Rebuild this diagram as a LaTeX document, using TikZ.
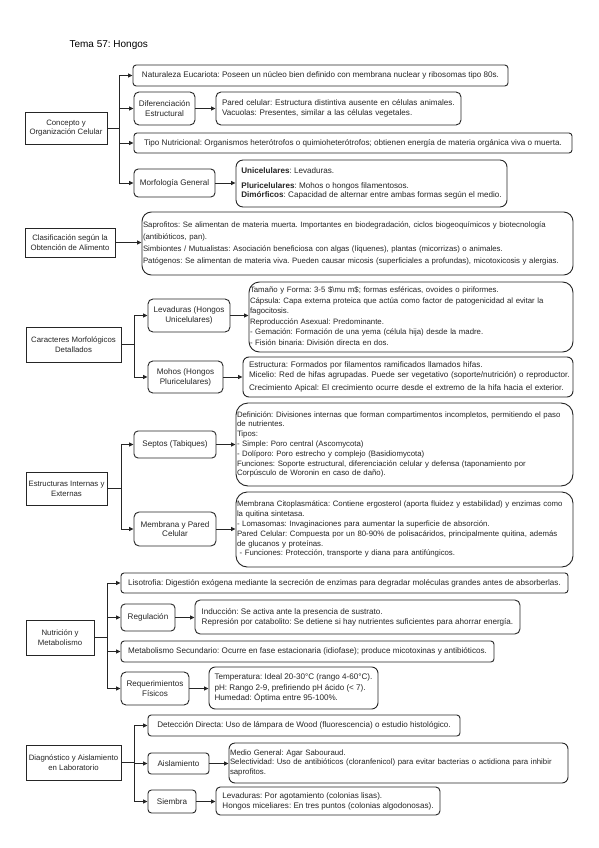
\documentclass[tikz,border=0pt]{standalone}
\usepackage{fontspec}
\setmainfont{Liberation Sans}
\usetikzlibrary{arrows.meta}
\frenchspacing
\newcommand\tb[1]{\begin{tabular}{@{}l@{}}#1\end{tabular}}
\newcommand\mybox[7]{%
  \pgfmathsetmacro\bw{#4-#2}%
  \pgfmathsetmacro\bh{#5-#3}%
  \pgfmathsetmacro\tw{\bw-2}%
  \pgfmathsetmacro\twp{\bw-12}%
  \pgfmathsetmacro\cx{(#2+#4)/2}%
  \pgfmathsetmacro\cy{(#3+#5)/2}%
  \pgfmathsetmacro\rr{min(0.15*min(\bw,\bh),12)}%
  \node[rounded corners=\rr pt, #6, minimum width=\bw pt, minimum height=\bh pt] (#1) at (\cx,\cy) {#7};%
}
\begin{document}
\begin{tikzpicture}[x=1pt,y=-1pt,
  every node/.style={font=\fontsize{8.1}{9.8}\selectfont\frenchspacing, text=black!85},
  smallf/.style={font=\fontsize{7.8}{9.8}\selectfont\frenchspacing},
  bx/.style={draw=black!85, line width=0.9pt, fill=white, inner sep=2pt},
  root/.style={bx, smallf, sharp corners, align=center, inner xsep=0.5pt},
  lab/.style={bx, align=center, inner xsep=1pt},
  cen/.style={bx, align=left},
  flush/.style={bx, smallf, text width=\tw pt, inner xsep=1pt, align=left},
  flushp/.style={bx, text width=\twp pt, inner xsep=6pt, align=left},
  ln/.style={draw=black!85, line width=0.9pt},
  arr/.style={ln, -{Triangle[length=4.5pt,width=4pt]}},
]
\fill[white] (0,0) rectangle (599,848);
\useasboundingbox (0,0) rectangle (599,848);

\node[anchor=west, font=\fontsize{10}{12}\selectfont, text=black] (title) at (66,45) {Tema 57: Hongos};

% ---------- Group 1
\mybox{c1}{25}{112}{107}{144}{root}{Concepto y\\Organización Celular}
\mybox{n1}{133}{65}{508}{86}{cen}{Naturaleza Eucariota: Poseen un núcleo bien definido con membrana nuclear y ribosomas tipo 80s.}
\mybox{n2}{134}{92}{195}{125}{lab}{Diferenciación\\Estructural}
\mybox{n2b}{216}{92}{461}{125}{flushp}{\tb{Pared celular: Estructura distintiva ausente en células animales.\\Vacuolas: Presentes, similar a las células vegetales.}}
\mybox{n3}{134}{133}{572}{153}{cen}{Tipo Nutricional: Organismos heterótrofos o quimioheterótrofos; obtienen energía de materia orgánica viva o muerta.}
\mybox{n4}{134}{169}{215}{197}{lab}{Morfología General}
\mybox{n4b}{236}{160}{507}{207}{cen}{\textbf{Unicelulares}: Levaduras.\\[5pt]\textbf{Pluricelulares}: Mohos o hongos filamentosos.\\\textbf{Dimórficos}: Capacidad de alternar entre ambas formas según el medio.}
\coordinate (t1) at (119,0);
\draw[ln] (c1.east) -- (c1.east -| t1);
\foreach \n in {n1,n2,n3,n4} \draw[arr] (c1.east -| t1) |- (\n.west);
\draw[arr] (n2.east) -- (n2.east -| n2b.west);
\draw[arr] (n4.east) -- (n4.east -| n4b.west);

% ---------- Group 2
\mybox{c2}{25}{228}{115}{257}{root}{Clasificación según la\\Obtención de Alimento}
\mybox{s1}{142}{212}{573}{275}{flush}{\tb{Saprofitos: Se alimentan de materia muerta. Importantes en biodegradación, ciclos biogeoquímicos y biotecnología\\[1.5pt](antibióticos, pan).\\[3pt]Simbiontes / Mutualistas: Asociación beneficiosa con algas (líquenes), plantas (micorrizas) o animales.\\[1.5pt]Patógenos: Se alimentan de materia viva. Pueden causar micosis (superficiales a profundas), micotoxicosis y alergias.}}
\draw[arr] (c2.east) -- (c2.east -| s1.west);

% ---------- Group 3
\mybox{c3}{26}{327}{121}{362}{root}{Caracteres Morfológicos\\Detallados}
\mybox{l1}{148}{299}{230}{332}{lab}{Levaduras (Hongos\\Unicelulares)}
\mybox{l1b}{249}{282}{573}{352}{flush}{\tb{Tamaño y Forma: 3-5 \$\textbackslash{}mu m\$; formas esféricas, ovoides o piriformes.\\[0.8pt]Cápsula: Capa externa proteica que actúa como factor de patogenicidad al evitar la\\[0.8pt]fagocitosis.\\[0.8pt]Reproducción Asexual: Predominante.\\[0.8pt]- Gemación: Formación de una yema (célula hija) desde la madre.\\[0.8pt]- Fisión binaria: División directa en dos.}}
\mybox{m1}{148}{361}{223}{393}{lab}{Mohos (Hongos\\Pluricelulares)}
\mybox{m1b}{243}{357}{573}{397}{flushp}{\tb{Estructura: Formados por filamentos ramificados llamados hifas.\\Micelio: Red de hifas agrupadas. Puede ser vegetativo (soporte/nutrición) o reproductor.\\[3pt]Crecimiento Apical: El crecimiento ocurre desde el extremo de la hifa hacia el exterior.}}
\coordinate (t3) at (134,0);
\draw[ln] (c3.east) -- (c3.east -| t3);
\foreach \n in {l1,m1} \draw[arr] (c3.east -| t3) |- (\n.west);
\draw[arr] (l1.east) -- (l1.east -| l1b.west);
\draw[arr] (m1.east) -- (m1.east -| m1b.west);

% ---------- Group 4
\mybox{c4}{26}{472}{107}{505}{root}{Estructuras Internas y\\Externas}
\mybox{e1}{134}{431}{216}{458}{lab}{Septos (Tabiques)}
\mybox{e1b}{236}{403}{573}{486}{flush}{\tb{Definición: Divisiones internas que forman compartimentos incompletos, permitiendo el paso\\de nutrientes.\\Tipos:\\- Simple: Poro central (Ascomycota)\\- Dolíporo: Poro estrecho y complejo (Basidiomycota)\\Funciones: Soporte estructural, diferenciación celular y defensa (taponamiento por\\Corpúsculo de Woronin en caso de daño).}}
\mybox{e2}{134}{512}{216}{546}{lab}{Membrana y Pared\\Celular}
\mybox{e2b}{236}{492}{573}{567}{flush}{\tb{Membrana Citoplasmática: Contiene ergosterol (aporta fluidez y estabilidad) y enzimas como\\la quitina sintetasa.\\- Lomasomas: Invaginaciones para aumentar la superficie de absorción.\\Pared Celular: Compuesta por un 80-90\% de polisacáridos, principalmente quitina, además\\de glucanos y proteínas.\\\ - Funciones: Protección, transporte y diana para antifúngicos.}}
\coordinate (t4) at (121,0);
\draw[ln] (c4.east) -- (c4.east -| t4);
\foreach \n in {e1,e2} \draw[arr] (c4.east -| t4) |- (\n.west);
\draw[arr] (e1.east) -- (e1.east -| e1b.west);
\draw[arr] (e2.east) -- (e2.east -| e2b.west);

% ---------- Group 5
\mybox{c5}{26}{620}{94}{655}{root}{Nutrición y\\Metabolismo}
\mybox{u1}{121}{573}{568}{593}{cen}{Lisotrofia: Digestión exógena mediante la secreción de enzimas para degradar moléculas grandes antes de absorberlas.}
\mybox{u2}{121}{604}{175}{631}{lab}{Regulación}
\mybox{u2b}{195}{600}{520}{634}{cen}{Inducción: Se activa ante la presencia de sustrato.\\Represión por catabolito: Se detiene si hay nutrientes suficientes para ahorrar energía.}
\mybox{u3}{121}{641}{494}{662}{cen}{Metabolismo Secundario: Ocurre en fase estacionaria (idiofase); produce micotoxinas y antibióticos.}
\mybox{u4}{121}{672}{189}{705}{lab}{Requerimientos\\Físicos}
\mybox{u4b}{209}{667}{378}{709}{cen}{Temperatura: Ideal 20-30°C (rango 4-60°C).\\[1pt]pH: Rango 2-9, prefiriendo pH ácido (< 7).\\[1pt]Humedad: Óptima entre 95-100\%.}
\coordinate (t5) at (107,0);
\draw[ln] (c5.east) -- (c5.east -| t5);
\foreach \n in {u1,u2,u3,u4} \draw[arr] (c5.east -| t5) |- (\n.west);
\draw[arr] (u2.east) -- (u2.east -| u2b.west);
\draw[arr] (u4.east) -- (u4.east -| u4b.west);

% ---------- Group 6
\mybox{c6}{26}{745}{121}{780}{root}{Diagnóstico y Aislamiento\\en Laboratorio}
\mybox{d1}{148}{715}{460}{736}{cen}{Detección Directa: Uso de lámpara de Wood (fluorescencia) o estudio histológico.}
\mybox{d2}{148}{753}{209}{774}{lab}{Aislamiento}
\mybox{d2b}{229}{743}{568}{783}{flush}{\tb{Medio General: Agar Sabouraud.\\Selectividad: Uso de antibióticos (cloranfenicol) para evitar bacterias o actidiona para inhibir\\saprofitos.}}
\mybox{d3}{148}{790}{196}{813}{lab}{Siembra}
\mybox{d3b}{216}{787}{440}{815}{cen}{Levaduras: Por agotamiento (colonias lisas).\\Hongos miceliares: En tres puntos (colonias algodonosas).}
\coordinate (t6) at (134,0);
\draw[ln] (c6.east) -- (c6.east -| t6);
\foreach \n in {d1,d2,d3} \draw[arr] (c6.east -| t6) |- (\n.west);
\draw[arr] (d2.east) -- (d2.east -| d2b.west);
\draw[arr] (d3.east) -- (d3.east -| d3b.west);
\end{tikzpicture}
\end{document}
